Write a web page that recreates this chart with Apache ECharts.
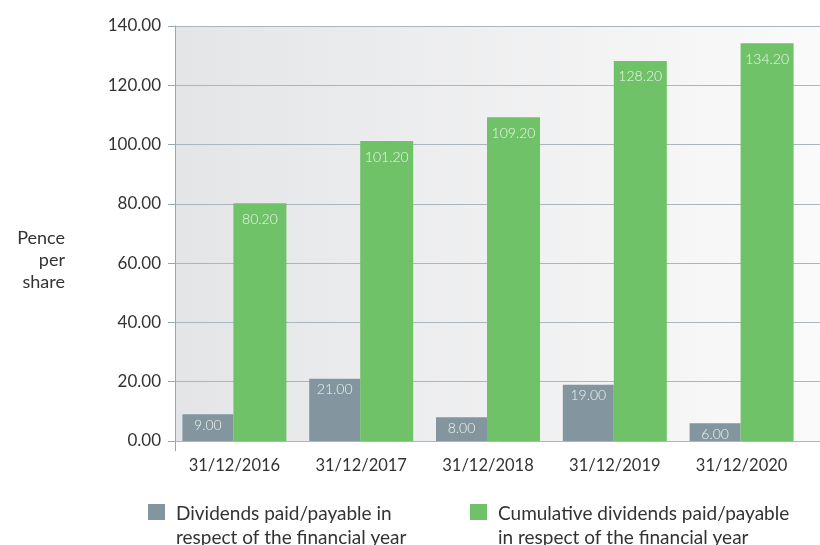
<!DOCTYPE html>
<html>
<head>
<meta charset="utf-8">
<script src="https://cdn.jsdelivr.net/npm/echarts@6/dist/echarts.min.js"></script>
<style>html,body{margin:0;padding:0;background:#fff;}#c{width:820px;height:545px;}</style>
</head>
<body>
<div id="c"></div>
<script>
var categories = ['31/12/2016', '31/12/2017', '31/12/2018', '31/12/2019', '31/12/2020'];
var dividends = [9.00, 21.00, 8.00, 19.00, 6.00];
var cumulative = [80.20, 101.20, 109.20, 128.20, 134.20];
var seriesNames = ['Dividends paid/payable in\nrespect of the financial year', 'Cumulative dividends paid/payable\nin respect of the financial year'];
var yTicks = { min: 0, max: 140, interval: 20 };

var FONT = 'Lato';
var chart = echarts.init(document.getElementById('c'));
function labelCfg(dist) {
  return {
    show: true, position: 'insideTop', distance: dist,
    color: '#eef5ee', fontSize: 14, fontFamily: FONT, fontWeight: 300,
    formatter: function (p) { return p.value.toFixed(2); }
  };
}
var legendIcon = 'path://M0,0L17,0L17,16L0,16ZM23,44L23,44';
function legendCfg(left, name) {
  return {
    left: left, top: 502, padding: 0, itemWidth: 23, itemHeight: 44, itemGap: 0,
    icon: legendIcon, data: [name],
    textStyle: { color: '#333', fontSize: 19, fontFamily: FONT, lineHeight: 24 }
  };
}
chart.setOption({
  animation: false,
  textStyle: { fontFamily: FONT },
  graphic: [
    { type: 'rect', z: -10, shape: { x: 175, y: 26, width: 645, height: 415 },
      style: { fill: new echarts.graphic.LinearGradient(0, 0, 1, 0, [
        { offset: 0, color: '#e4e5e7' }, { offset: 1, color: '#fafafa' }]) } },
    { type: 'line', z: 5, shape: { x1: 175.5, y1: 441, x2: 175.5, y2: 451 },
      style: { stroke: '#98a7af', lineWidth: 1 } },
    { type: 'text',
      style: { x: 65, y: 227, text: 'Pence\nper\nshare', fill: '#333', fontSize: 18, fontFamily: FONT,
        lineHeight: 22, align: 'right', verticalAlign: 'top' } }
  ],
  legend: [legendCfg(148, seriesNames[0]), legendCfg(470, seriesNames[1])],
  grid: [
    { left: 175, right: 0, top: 26, bottom: 104 },
    { left: 171, right: 15, top: 26, bottom: 104 }
  ],
  xAxis: [
    { type: 'value', gridIndex: 0, show: false, min: 0, max: 1 },
    { type: 'category', gridIndex: 1, data: categories,
      axisLine: { show: false }, axisTick: { show: false },
      axisLabel: { interval: 0, color: '#333', fontSize: 16.5, fontFamily: FONT, margin: 16 } }
  ],
  yAxis: [
    { type: 'value', gridIndex: 0, min: yTicks.min, max: yTicks.max, interval: yTicks.interval,
      axisLine: { show: true, lineStyle: { color: '#98a7af' } },
      axisTick: { show: true, length: 7, lineStyle: { color: '#98a7af' } },
      splitLine: { show: true, lineStyle: { color: '#a9b6bd' } },
      axisLabel: { color: '#333', fontSize: 17, fontFamily: FONT, margin: 14,
        formatter: function (v) { return v.toFixed(2); } } },
    { type: 'value', gridIndex: 1, min: yTicks.min, max: yTicks.max, interval: yTicks.interval, show: false,
      splitLine: { show: false } }
  ],
  series: [
    { name: seriesNames[0], type: 'bar', xAxisIndex: 1, yAxisIndex: 1, data: dividends,
      barWidth: 51, barGap: '0%', itemStyle: { color: '#83969f' }, label: labelCfg(4) },
    { name: seriesNames[1], type: 'bar', xAxisIndex: 1, yAxisIndex: 1, data: cumulative,
      barWidth: 53, barGap: '0%', itemStyle: { color: '#6fc267' }, label: labelCfg(9) }
  ]
});
</script>
</body>
</html>
